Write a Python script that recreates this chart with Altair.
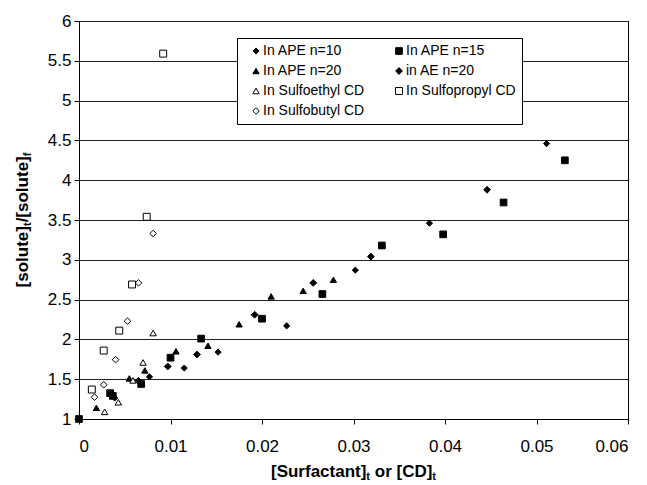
import altair as alt
import pandas as pd

# ---- data ----
series_names = ["In APE n=10", "In APE n=15", "In APE n=20", "in AE n=20",
                "In Sulfoethyl CD", "In Sulfopropyl CD", "In Sulfobutyl CD"]
# legend fills column-major: order chosen so rows read as in the reference
legend_order = ["In APE n=10", "In APE n=20", "In Sulfoethyl CD", "In Sulfobutyl CD",
                "In APE n=15", "in AE n=20", "In Sulfopropyl CD"]

ape10_x = [0.0039, 0.0077, 0.0115, 0.0152, 0.0227, 0.0302, 0.0383, 0.0511]
ape10_y = [1.265, 1.53, 1.64, 1.84, 2.17, 2.87, 3.46, 4.46]
ape15_x = [0.0, 0.0034, 0.0037, 0.0068, 0.0100, 0.01335, 0.0200, 0.0266, 0.0331, 0.0398, 0.0464, 0.0531]
ape15_y = [1.0, 1.325, 1.29, 1.44, 1.77, 2.01, 2.26, 2.57, 3.18, 3.32, 3.72, 4.25]
ape20_x = [0.0019, 0.0055, 0.0072, 0.0106, 0.0141, 0.0175, 0.0210, 0.0245, 0.0278]
ape20_y = [1.14, 1.51, 1.61, 1.85, 1.92, 2.19, 2.54, 2.61, 2.75]
ae20_x = [0.0065, 0.0097, 0.0129, 0.0192, 0.0256, 0.0319, 0.0446]
ae20_y = [1.48, 1.66, 1.81, 2.31, 2.71, 3.04, 3.88]
sulfoethyl_x = [0.0028, 0.0043, 0.0059, 0.0070, 0.0081]
sulfoethyl_y = [1.09, 1.21, 1.485, 1.71, 2.08]
sulfopropyl_x = [0.0014, 0.0027, 0.0044, 0.0058, 0.0074, 0.0092]
sulfopropyl_y = [1.37, 1.86, 2.11, 2.69, 3.54, 5.59]
sulfobutyl_x = [0.0017, 0.0027, 0.0040, 0.0053, 0.0065, 0.0081]
sulfobutyl_y = [1.275, 1.43, 1.745, 2.23, 2.71, 3.33]

x_ticks = [0, 0.01, 0.02, 0.03, 0.04, 0.05, 0.06]
y_ticks = [1, 1.5, 2, 2.5, 3, 3.5, 4, 4.5, 5, 5.5, 6]

xs = [ape10_x, ape15_x, ape20_x, ae20_x, sulfoethyl_x, sulfopropyl_x, sulfobutyl_x]
ys = [ape10_y, ape15_y, ape20_y, ae20_y, sulfoethyl_y, sulfopropyl_y, sulfobutyl_y]
rows = []
for name, sx, sy in zip(series_names, xs, ys):
    for a, b in zip(sx, sy):
        rows.append({"series": name, "x": a, "y": b})
df = pd.DataFrame(rows)

style = {
    "In APE n=10": ("diamond", "black", 38),
    "In APE n=15": ("square", "black", 42),
    "In APE n=20": ("triangle-up", "black", 48),
    "in AE n=20": ("diamond", "black", 38),
    "In Sulfoethyl CD": ("triangle-up", "white", 58),
    "In Sulfopropyl CD": ("square", "white", 58),
    "In Sulfobutyl CD": ("diamond", "white", 52),
}
shapes = [style[n][0] for n in legend_order]
fills = [style[n][1] for n in legend_order]
sizes = [style[n][2] for n in legend_order]
strokes = ["black"] * len(legend_order)

W, H = 549, 398
FONT = "Liberation Sans"

leg = alt.Legend(title=None, orient="none", legendX=158, legendY=17, columns=2,
                 strokeColor="black", fillColor="white", padding=6,
                 symbolOffset=6, columnPadding=21, rowPadding=6,
                 labelFont=FONT, labelFontSize=14, labelColor="black",
                 symbolStrokeColor="black", symbolStrokeWidth=1, labelOffset=0,
                 symbolOpacity=1, gridAlign="each",
                 labelExpr="datum.label == 'In Sulfopropyl CD' ? datum.label + '\u00a0\u00a0\u00a0\u00a0\u00a0\u00a0\u00a0' : datum.label")

points = alt.Chart(df).mark_point(filled=False, strokeWidth=1, opacity=1).encode(
    x=alt.X("x:Q", scale=alt.Scale(domain=[0, 0.06], nice=False),
            axis=alt.Axis(values=x_ticks, format="~g", title=None, grid=False,
                          tickSize=5, labelPadding=14, domainColor="black",
                          tickColor="black")),
    y=alt.Y("y:Q", scale=alt.Scale(domain=[1, 6], nice=False, zero=False),
            axis=alt.Axis(values=y_ticks, format="~g", title=None, grid=True,
                          gridColor="#222", gridOpacity=1, gridWidth=1,
                          tickSize=5, labelPadding=3, domainColor="black",
                          tickColor="black")),
    shape=alt.Shape("series:N", scale=alt.Scale(domain=legend_order, range=shapes), legend=leg),
    fill=alt.Fill("series:N", scale=alt.Scale(domain=legend_order, range=fills), legend=leg),
    stroke=alt.Stroke("series:N", scale=alt.Scale(domain=legend_order, range=strokes), legend=leg),
    size=alt.Size("series:N", scale=alt.Scale(domain=legend_order, range=sizes), legend=leg),
)

one = pd.DataFrame({"k": [0]})


def word_width(s, size):
    w = {"[": 333, "]": 333, "S": 667, "u": 611, "r": 389, "f": 333, "a": 556,
         "c": 556, "t": 333, "n": 611, " ": 278, "o": 611, "C": 722, "D": 722,
         "s": 556, "l": 278, "e": 556, "/": 278}
    return sum(w.get(ch, 556) for ch in s) / 1000.0 * size


BIG, SUB = 17, 11

# x-axis title pieces: [Surfactant]_t or [CD]_t  (gap = leading space width)
x_parts = [("[Surfactant]", BIG, 0, 0), ("t", SUB, 3, 0),
           ("or [CD]", BIG, 0, word_width(" ", BIG)), ("t", SUB, 3, 0)]
total = sum(word_width(s, fs) + g for s, fs, _, g in x_parts)
cx = W / 2 - total / 2
x_base = H + 58
layers = [points]
for s, fs, off, gap in x_parts:
    cx += gap
    layers.append(alt.Chart(one).mark_text(text=s, align="left", baseline="alphabetic",
                                           font=FONT, fontSize=fs, fontWeight="bold",
                                           color="black").encode(
        x=alt.value(cx), y=alt.value(x_base + off)))
    cx += word_width(s, fs)

# y-axis title pieces: [solute]_t/[solute]_f (rotated)
y_parts = [("[solute]", BIG, 0), ("t", SUB, 3), ("/[solute]", BIG, 0), ("f", SUB, 3)]
total = sum(word_width(s, fs) for s, fs, _ in y_parts)
cy = H / 2 + total / 2
y_base = -51
for s, fs, off in y_parts:
    layers.append(alt.Chart(one).mark_text(text=s, align="left", baseline="alphabetic",
                                           angle=270, font=FONT, fontSize=fs,
                                           fontWeight="bold", color="black").encode(
        x=alt.value(y_base + off), y=alt.value(cy)))
    cy -= word_width(s, fs)

chart = alt.layer(*layers).properties(
    width=W, height=H,
    autosize=alt.AutoSizeParams(type="none"),
    padding={"left": 79, "top": 21, "right": 19, "bottom": 66},
    background="white",
).configure_view(stroke="black", strokeWidth=1).configure_axis(
    labelFont=FONT, labelFontSize=17, labelColor="black"
)

chart.save("out.html", embed_options={"renderer": "svg", "actions": False})
